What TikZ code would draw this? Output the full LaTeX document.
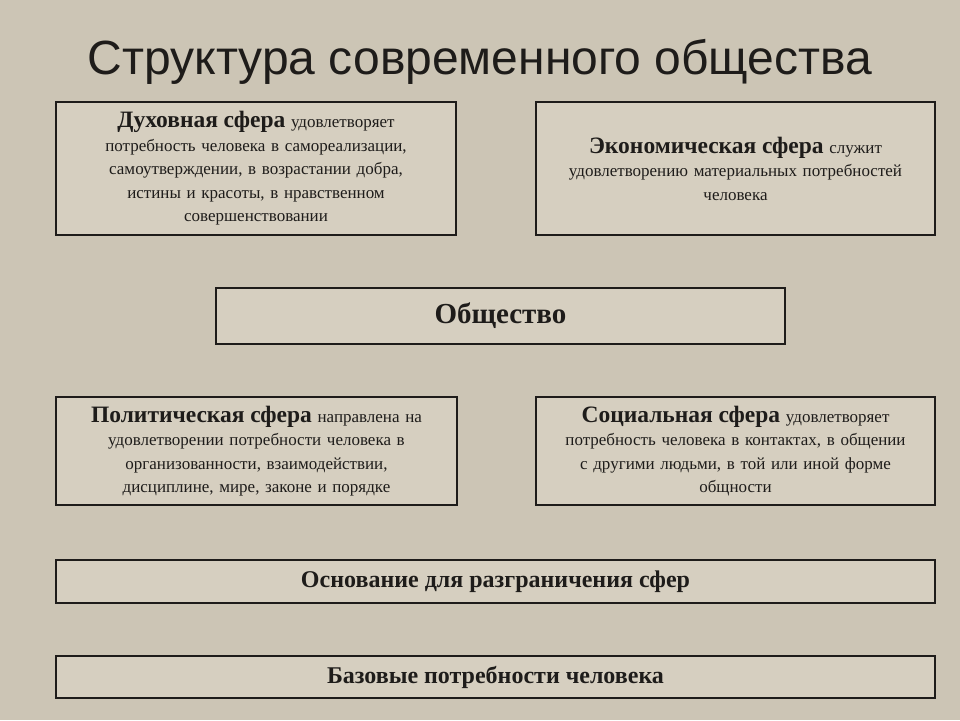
\documentclass[tikz,border=0pt]{standalone}
\usepackage{fontspec}
\setmainfont{Liberation Serif}
\newfontfamily\titlefont{Liberation Sans}
\definecolor{bg}{RGB}{204,197,181}
\definecolor{boxbg}{RGB}{214,207,192}
\definecolor{ink}{RGB}{30,28,26}
\newcommand{\hh}[1]{{\fontsize{23.5}{25}\selectfont\bfseries #1}}
\begin{document}
\begin{tikzpicture}[x=1pt,y=-1pt,
  sphere/.style={draw=ink,line width=1.3pt,fill=boxbg,align=center,inner sep=0pt,font=\fontsize{17}{23.5}\selectfont,text=ink},
  hd/.style={font=\fontsize{24}{26}\selectfont\bfseries}]
\fill[bg] (0,0) rectangle (960,720);
\useasboundingbox (0,0) rectangle (960,720);
\node[font=\titlefont\fontsize{48}{52}\selectfont,text=ink] (title) at (480,62) {Структура современного общества};
\node[sphere,minimum width=400pt,minimum height=133pt,text width=395pt] (d) at (256,168.5)
 {\hh{Духовная сфера} удовлетворяет\\потребность человека в самореализации,\\самоутверждении, в возрастании добра,\\истины и красоты, в нравственном\\совершенствовании};
\node[sphere,minimum width=399pt,minimum height=133pt,text width=395pt] (e) at (735.5,168.5)
 {\hh{Экономическая сфера} служит\\удовлетворению материальных потребностей\\человека};
\node[sphere,minimum width=569pt,minimum height=56pt,font=\fontsize{29}{32}\selectfont\bfseries] (o) at (500.5,316) {Общество};
\node[sphere,minimum width=401pt,minimum height=108pt,text width=395pt] (p) at (256.5,451)
 {\hh{Политическая сфера} направлена на\\удовлетворении потребности человека в\\организованности, взаимодействии,\\дисциплине, мире, законе и порядке};
\node[sphere,minimum width=399pt,minimum height=108pt,text width=395pt] (s) at (735.5,451)
 {\hh{Социальная сфера} удовлетворяет\\потребность человека в контактах, в общении\\с другими людьми, в той или иной форме\\общности};
\node[sphere,minimum width=879pt,minimum height=43pt,hd] (b1) at (495.5,581.5) {Основание для разграничения сфер};
\node[sphere,minimum width=879pt,minimum height=42pt,hd] (b2) at (495.5,677) {Базовые потребности человека};
\end{tikzpicture}
\end{document}
